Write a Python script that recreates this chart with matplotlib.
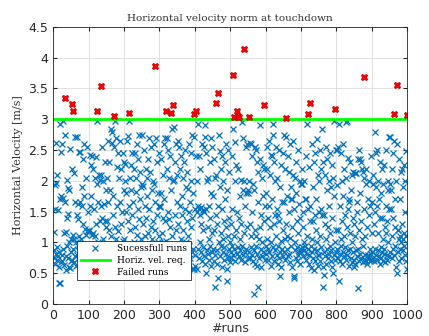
import numpy as np
import matplotlib
matplotlib.use("Agg")
import matplotlib.pyplot as plt

# horizontal velocity norm at touchdown for runs 1..1000
velocity = [
    # runs 1-50
    0.88, 1.17, 0.75, 1.55, 0.65, 1.93, 0.82, 2.62, 1.97, 0.72,
    2.10, 0.92, 1.52, 0.78, 0.85, 0.60, 0.35, 2.93, 1.70, 0.35,
    2.47, 0.68, 1.75, 0.80, 2.60, 0.70, 1.72, 2.97, 0.90, 1.15,
    0.63, 2.75, 3.35, 1.65, 0.78, 1.17, 0.55, 1.40, 0.95, 2.02,
    1.88, 1.47, 0.75, 1.85, 1.00, 0.60, 2.52, 0.58, 1.05, 0.70,
    # runs 51-100
    0.85, 2.20, 0.72, 3.24, 1.12, 3.14, 0.90, 1.05, 2.12, 0.68,
    1.65, 0.78, 2.72, 1.00, 0.62, 1.45, 2.72, 0.80, 1.38, 0.95,
    1.62, 0.75, 2.47, 1.10, 0.88, 1.65, 2.47, 0.70, 1.05, 1.90,
    0.82, 1.60, 2.35, 0.65, 1.30, 0.92, 1.75, 2.60, 0.70, 1.22,
    0.80, 2.05, 1.12, 0.58, 2.55, 1.18, 0.85, 1.50, 0.75, 1.18,
    # runs 101-150
    1.20, 0.78, 2.42, 1.60, 0.90, 1.75, 0.70, 2.25, 1.12, 2.40,
    0.82, 1.15, 2.20, 0.95, 1.55, 0.65, 2.05, 1.10, 0.88, 1.30,
    2.38, 0.75, 1.95, 2.97, 3.14, 0.85, 1.65, 1.00, 2.10, 0.72,
    1.35, 2.02, 0.90, 1.60, 2.10, 3.54, 0.80, 2.55, 1.40, 0.68,
    2.00, 1.05, 0.78, 1.62, 2.30, 0.92, 1.35, 0.60, 1.85, 1.25,
    # runs 151-200
    0.75, 2.05, 1.35, 0.88, 1.65, 2.65, 0.70, 1.20, 2.30, 0.95,
    1.85, 2.85, 0.80, 1.10, 2.62, 0.65, 2.80, 1.45, 0.90, 1.75,
    2.55, 3.05, 0.78, 2.97, 1.25, 0.85, 2.70, 1.05, 2.22, 0.72,
    1.60, 2.45, 0.92, 1.18, 0.60, 2.05, 0.82, 1.65, 2.65, 0.75,
    1.30, 2.20, 0.95, 1.50, 0.68, 2.45, 1.02, 0.80, 1.85, 2.30,
    # runs 201-250
    1.05, 2.00, 0.78, 2.28, 1.50, 0.90, 1.80, 2.65, 0.72, 2.73,
    1.35, 0.85, 3.11, 2.97, 1.60, 0.70, 2.05, 1.20, 0.95, 1.85,
    2.25, 0.80, 1.45, 2.45, 0.62, 1.65, 2.20, 1.00, 0.88, 2.45,
    1.25, 0.75, 2.05, 1.82, 0.92, 2.60, 1.12, 0.68, 1.55, 2.35,
    0.82, 1.38, 2.75, 0.60, 1.70, 2.15, 0.90, 1.05, 1.90, 0.78,
    # runs 251-300
    2.75, 1.95, 0.85, 1.30, 1.92, 0.70, 2.50, 1.10, 0.92, 1.60,
    2.20, 0.78, 1.40, 2.05, 0.65, 1.75, 0.88, 2.35, 1.15, 2.70,
    0.80, 1.55, 2.15, 0.95, 1.25, 2.55, 0.72, 1.85, 1.05, 0.60,
    2.00, 0.90, 1.35, 2.60, 1.95, 0.82, 1.65, 1.20, 3.86, 2.70,
    0.75, 1.45, 2.30, 0.68, 1.00, 1.80, 0.85, 2.45, 1.10, 1.60,
    # runs 301-350
    1.60, 0.90, 1.58, 2.35, 0.75, 1.80, 1.15, 0.65, 2.10, 1.40,
    0.85, 2.60, 1.00, 1.70, 0.98, 1.35, 2.70, 3.13, 1.02, 0.80,
    2.20, 2.70, 0.70, 1.50, 2.50, 0.92, 1.38, 2.05, 0.78, 1.25,
    2.40, 0.88, 1.85, 3.10, 2.85, 1.10, 0.72, 2.00, 3.23, 2.88,
    0.82, 2.02, 1.45, 0.60, 2.30, 1.20, 0.95, 2.60, 1.65, 0.75,
    # runs 351-400
    2.10, 0.80, 2.65, 1.30, 0.90, 2.55, 1.60, 0.72, 2.20, 1.05,
    0.85, 2.40, 1.45, 0.65, 1.75, 2.05, 0.92, 1.20, 2.30, 0.78,
    1.55, 0.88, 2.50, 1.00, 1.90, 0.70, 1.35, 2.15, 0.82, 1.87,
    1.10, 0.60, 2.60, 1.50, 0.95, 1.65, 0.75, 2.00, 1.25, 2.45,
    0.85, 1.40, 2.75, 0.57, 0.90, 1.80, 0.57, 2.72, 3.09, 0.62,
    # runs 401-450
    1.55, 0.80, 2.40, 3.13, 0.57, 1.50, 2.00, 0.90, 1.60, 2.93,
    0.75, 2.40, 1.55, 1.00, 1.45, 2.20, 0.85, 1.30, 1.58, 0.70,
    2.60, 1.20, 0.92, 1.52, 2.55, 0.78, 1.50, 2.90, 0.65, 2.72,
    2.45, 0.50, 1.55, 0.88, 2.00, 1.25, 0.82, 2.05, 1.60, 0.72,
    1.05, 2.30, 0.95, 1.40, 0.62, 1.80, 2.70, 0.85, 1.15, 2.55,
    # runs 451-500
    0.90, 1.75, 2.35, 0.70, 1.20, 0.80, 0.27, 2.05, 1.45, 3.26,
    2.10, 0.88, 1.30, 0.65, 0.42, 1.60, 3.43, 2.75, 1.00, 2.48,
    0.78, 1.90, 0.95, 2.20, 1.15, 0.60, 1.55, 2.40, 0.85, 1.05,
    2.00, 0.72, 1.35, 0.92, 2.30, 1.70, 0.82, 2.60, 1.25, 0.38,
    0.57, 1.85, 0.75, 2.50, 1.10, 0.90, 1.40, 2.15, 0.68, 1.00,
    # runs 501-550
    0.85, 1.30, 0.75, 2.40, 0.95, 1.55, 3.72, 2.85, 0.80, 1.10,
    0.90, 3.03, 2.00, 0.70, 2.63, 1.20, 2.25, 0.82, 1.50, 3.14,
    3.03, 2.20, 0.92, 1.40, 0.78, 3.03, 1.05, 0.88, 1.75, 2.02,
    0.72, 1.30, 0.95, 2.95, 1.85, 0.80, 2.70, 1.15, 4.14, 2.00,
    0.85, 1.60, 0.68, 2.55, 1.80, 0.90, 1.25, 2.60, 0.75, 1.85,
    # runs 551-600
    1.80, 0.85, 3.03, 2.00, 1.30, 0.75, 2.62, 1.10, 0.92, 2.60,
    1.50, 0.80, 2.40, 1.95, 0.70, 0.17, 1.85, 0.88, 2.55, 0.65,
    1.20, 2.50, 0.95, 1.10, 2.30, 0.62, 0.82, 1.65, 2.15, 0.28,
    1.05, 0.75, 2.35, 1.25, 2.90, 0.90, 1.45, 0.60, 2.05, 1.00,
    0.78, 1.75, 2.25, 0.85, 1.35, 2.20, 3.23, 0.72, 1.60, 0.95,
    # runs 601-650
    1.80, 0.82, 2.55, 1.05, 2.20, 0.72, 1.40, 0.90, 2.65, 1.60,
    0.85, 2.10, 1.25, 0.62, 2.42, 1.00, 0.78, 2.40, 1.70, 2.93,
    0.92, 2.75, 1.30, 0.70, 2.30, 1.45, 0.88, 2.00, 1.10, 2.55,
    0.80, 2.05, 1.55, 0.65, 1.45, 0.95, 2.50, 1.35, 0.75, 0.45,
    1.90, 0.85, 2.25, 1.02, 0.60, 1.65, 0.90, 2.45, 1.20, 0.78,
    # runs 651-700
    2.75, 0.85, 1.65, 1.05, 2.20, 0.72, 1.30, 3.02, 2.72, 1.10,
    0.90, 1.75, 2.40, 0.78, 2.15, 1.50, 0.82, 1.08, 2.60, 0.68,
    1.90, 0.95, 1.70, 1.25, 1.70, 0.60, 2.10, 2.65, 0.45, 0.42,
    1.55, 0.88, 2.05, 1.00, 0.75, 1.80, 2.30, 0.92, 1.35, 0.70,
    2.50, 1.15, 0.80, 1.62, 0.85, 2.00, 0.65, 1.40, 1.95, 0.90,
    # runs 701-750
    0.85, 1.95, 0.92, 2.20, 1.25, 0.78, 1.50, 0.88, 2.00, 1.00,
    0.95, 1.70, 0.72, 2.40, 1.70, 0.82, 2.92, 1.10, 3.09, 0.90,
    1.55, 0.65, 2.22, 0.80, 1.35, 3.27, 1.60, 0.95, 0.58, 2.60,
    0.85, 1.05, 1.90, 0.75, 1.35, 2.30, 0.90, 0.55, 1.45, 2.45,
    0.70, 1.70, 1.20, 0.88, 2.68, 1.00, 0.62, 2.10, 0.80, 1.50,
    # runs 751-800
    0.80, 2.00, 1.10, 0.70, 2.50, 1.55, 0.92, 2.20, 1.45, 2.85,
    0.60, 0.27, 2.30, 0.85, 1.45, 0.47, 1.30, 2.10, 0.78, 2.55,
    1.05, 0.65, 1.85, 0.90, 2.35, 1.25, 0.75, 2.00, 1.60, 0.82,
    2.45, 0.95, 1.15, 0.70, 1.90, 0.88, 2.25, 1.40, 0.60, 2.05,
    0.50, 1.75, 0.80, 2.97, 3.17, 1.00, 0.72, 2.50, 1.20, 0.85,
    # runs 801-850
    2.50, 0.90, 1.93, 0.75, 2.55, 1.20, 0.38, 2.93, 0.82, 1.60,
    0.70, 2.45, 1.05, 0.95, 2.00, 1.35, 0.65, 1.75, 0.85, 2.60,
    1.10, 0.78, 2.20, 1.45, 0.92, 2.05, 0.72, 2.95, 1.25, 0.80,
    2.97, 2.37, 0.88, 1.55, 1.70, 0.62, 1.65, 2.30, 0.90, 1.15,
    1.85, 0.75, 2.10, 1.00, 0.68, 1.40, 2.15, 0.85, 1.30, 0.60,
    # runs 851-900
    0.72, 2.12, 1.10, 0.65, 2.12, 0.88, 1.50, 0.78, 1.65, 2.35,
    0.90, 0.26, 2.50, 0.70, 1.20, 1.80, 2.35, 0.82, 1.35, 2.30,
    0.75, 1.05, 2.20, 0.95, 2.15, 0.68, 1.55, 2.05, 3.69, 0.80,
    0.72, 1.10, 1.95, 0.70, 2.20, 0.78, 1.25, 0.65, 1.70, 0.80,
    2.00, 0.75, 1.45, 0.70, 0.90, 1.60, 0.82, 2.40, 0.72, 1.15,
    # runs 901-950
    0.85, 1.65, 0.75, 2.10, 1.95, 0.70, 1.30, 2.80, 0.90, 1.50,
    1.90, 2.45, 0.80, 1.60, 2.50, 0.72, 1.15, 0.88, 2.00, 1.70,
    0.78, 1.40, 2.30, 0.65, 0.92, 1.80, 0.75, 2.20, 0.85, 1.40,
    1.05, 0.70, 1.95, 0.82, 2.25, 0.90, 1.25, 0.68, 1.60, 1.15,
    2.50, 0.80, 1.35, 0.72, 1.85, 1.00, 2.00, 0.78, 1.55, 2.72,
    # runs 951-1000
    1.95, 2.72, 0.85, 1.55, 1.85, 0.75, 2.20, 1.10, 0.90, 2.45,
    1.40, 0.80, 3.09, 2.65, 1.70, 0.95, 1.25, 2.00, 0.60, 3.55,
    0.50, 2.60, 1.20, 0.85, 1.20, 2.35, 1.05, 0.70, 1.70, 1.10,
    0.90, 2.15, 1.00, 0.75, 2.20, 1.30, 0.88, 1.90, 1.05, 0.95,
    2.25, 1.15, 0.80, 1.50, 2.00, 1.10, 0.70, 2.48, 3.07, 0.57,
]
vel_req = 3.0

runs = np.arange(1, len(velocity) + 1)
vel = np.array(velocity)
failed = vel > vel_req

serif = ['DejaVu Serif']

fig = plt.figure(figsize=(4.29, 3.36), dpi=100)
ax = fig.add_axes([0.124, 0.095, 0.825, 0.825])

ax.plot(runs[~failed], vel[~failed], 'x', color='#0072BD', markersize=3.8,
        markeredgewidth=0.9, label='Sucessfull runs')
ax.axhline(vel_req, color='#00FF00', linewidth=2, label='Horiz. vel. req.')
ax.plot(runs[failed], vel[failed], 'X', color='#FF0000', markersize=5,
        markeredgecolor='#CC0000', markeredgewidth=0.6, label='Failed runs')

ax.set_xlim(0, 1000)
ax.set_ylim(0, 4.5)
ax.set_xticks(np.arange(0, 1001, 100))
ax.set_yticks(np.arange(0, 4.51, 0.5))
ax.set_yticklabels(['0', '0.5', '1', '1.5', '2', '2.5', '3', '3.5', '4', '4.5'])
ax.tick_params(direction='in', labelsize=9, colors='#262626', length=3,
               top=True, right=True)
ax.grid(True, color='#DDDDDD', linewidth=0.6)
ax.set_axisbelow(True)
for s in ax.spines.values():
    s.set_color('#262626')
    s.set_linewidth(0.6)

ax.set_title('Horizontal velocity norm at touchdown', fontsize=7.5, family=serif,
             color='#333333', pad=4)
ax.set_ylabel('Horizontal Velocity [m/s]', fontsize=8, family=serif, color='#333333')
ax.set_xlabel('#runs', fontsize=9, color='#333333', labelpad=0)

leg = ax.legend(loc='lower left', bbox_to_anchor=(0.055, 0.07),
                prop={'family': serif, 'size': 6.5}, fancybox=False,
                edgecolor='#262626', framealpha=1, borderpad=0.4,
                handlelength=3.2, labelspacing=0.3)
leg.get_frame().set_linewidth(0.6)

fig.savefig('out.png', dpi=100)
